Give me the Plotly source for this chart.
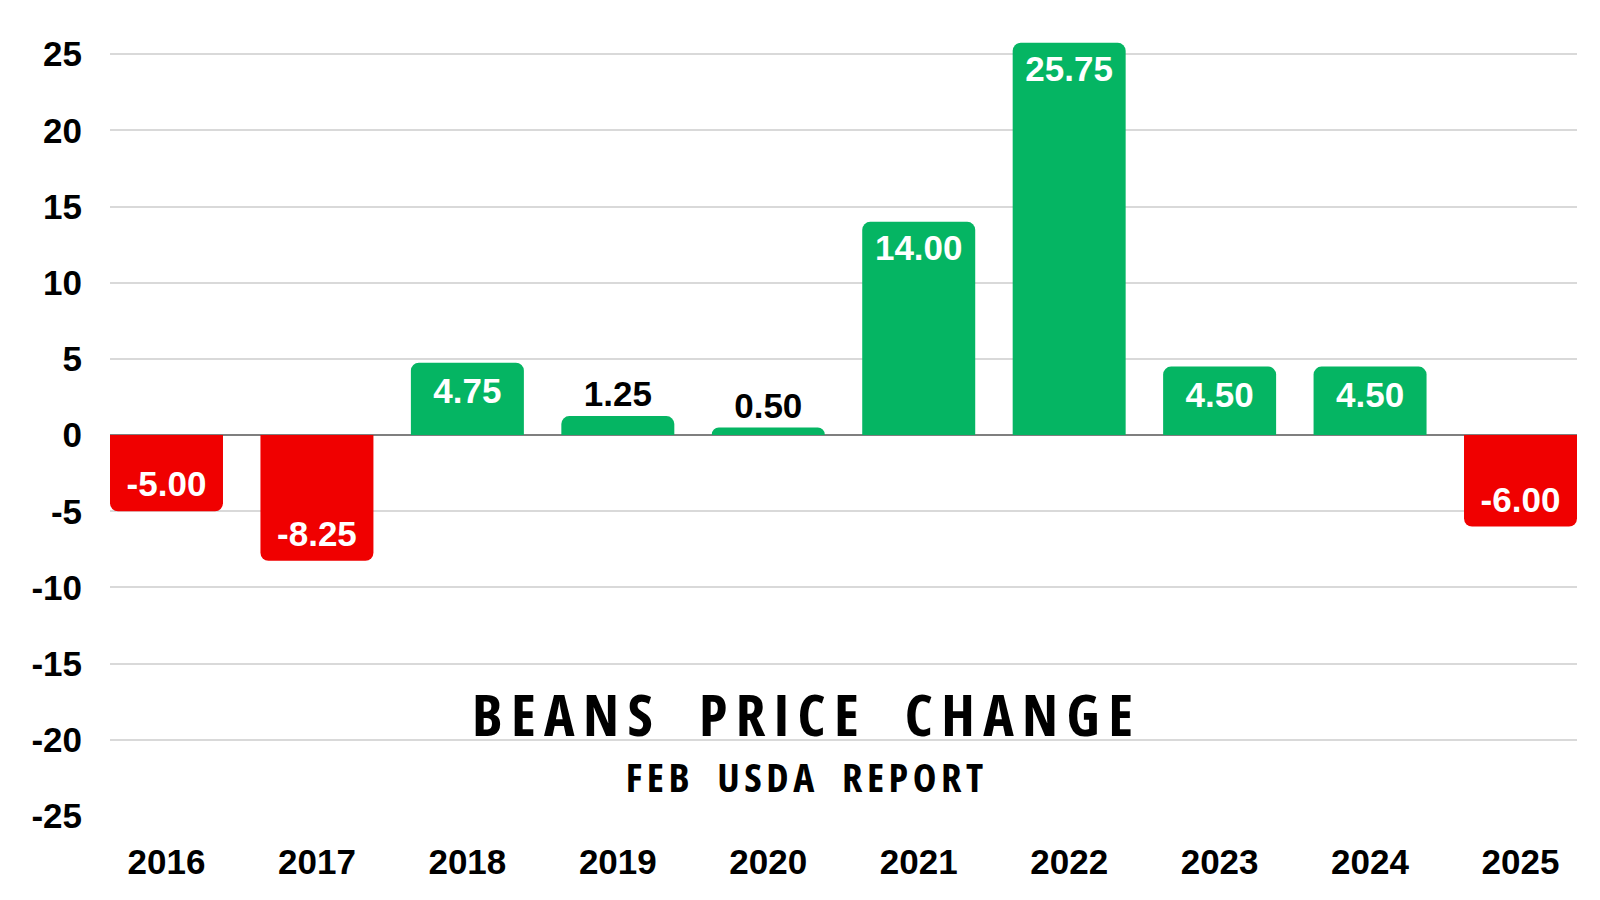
import plotly.graph_objects as go

years = ["2016", "2017", "2018", "2019", "2020", "2021", "2022", "2023", "2024", "2025"]
changes = [-5.00, -8.25, 4.75, 1.25, 0.50, 14.00, 25.75, 4.50, 4.50, -6.00]
y_ticks = [25, 20, 15, 10, 5, 0, -5, -10, -15, -20, -25]
y_tick_labels = ["25", "20", "15", "10", "5", "0", "-5", "-10", "-15", "-20", "-25"]
title_text = "BEANS PRICE CHANGE"
subtitle_text = "FEB USDA REPORT"

GREEN = "#05B563"
RED = "#F00000"
colors = [GREEN if v >= 0 else RED for v in changes]
labels = [f"{v:.2f}" for v in changes]

fig = go.Figure(
    go.Bar(
        x=years,
        y=changes,
        marker=dict(color=colors, line=dict(width=0), cornerradius=8),
        text=labels,
        textposition="auto",
        textangle=0,
        insidetextanchor="end",
        insidetextfont=dict(family="Liberation Sans, Arial", size=35, color="white", weight="bold"),
        outsidetextfont=dict(family="Liberation Sans, Arial", size=35, color="black", weight="bold"),
        cliponaxis=False,
        hoverinfo="skip",
    )
)

bargap = 0.249
half = (1 - bargap) / 2
plot_l, plot_r, plot_t, plot_b = 102, 1600 - 31, 31, 900 - 92

fig.update_layout(
    width=1600,
    height=900,
    margin=dict(l=plot_l, r=1600 - plot_r, t=plot_t, b=900 - plot_b),
    paper_bgcolor="white",
    plot_bgcolor="white",
    bargap=bargap,
    showlegend=False,
    font=dict(family="Liberation Sans, Arial", color="black"),
    xaxis=dict(
        type="category",
        range=[-half, len(years) - 1 + half],
        showgrid=False,
        showline=False,
        ticks="",
        ticklabelstandoff=22,
        tickfont=dict(size=35, color="black", weight="bold"),
    ),
    yaxis=dict(
        range=[-25, 26],
        tickvals=y_ticks,
        ticktext=y_tick_labels,
        showgrid=True,
        gridcolor="#d9d9d9",
        gridwidth=1.5,
        zeroline=True,
        zerolinecolor="#7f7f7f",
        zerolinewidth=1.5,
        showline=False,
        ticks="",
        ticklabelstandoff=27,
        tickfont=dict(size=35, color="black", weight="bold"),
    ),
)

title_block = (
    f'<span style="font-size:58px;letter-spacing:8.4px;font-stretch:75%">{title_text.replace(" ", "  ")}</span>'
    f'<br><span style="font-size:40px;letter-spacing:4.5px;font-stretch:75%">{subtitle_text.replace(" ", "  ")}</span>'
)
bx, by = 798, 798
fig.add_annotation(
    text=title_block,
    x=(bx - plot_l) / (plot_r - plot_l), y=(plot_b - by) / (plot_b - plot_t),
    xref="paper", yref="paper", showarrow=False, align="center",
    font=dict(family="Open Sans", size=43, color="black", weight="bold"),
)

fig.write_html("out.html")
